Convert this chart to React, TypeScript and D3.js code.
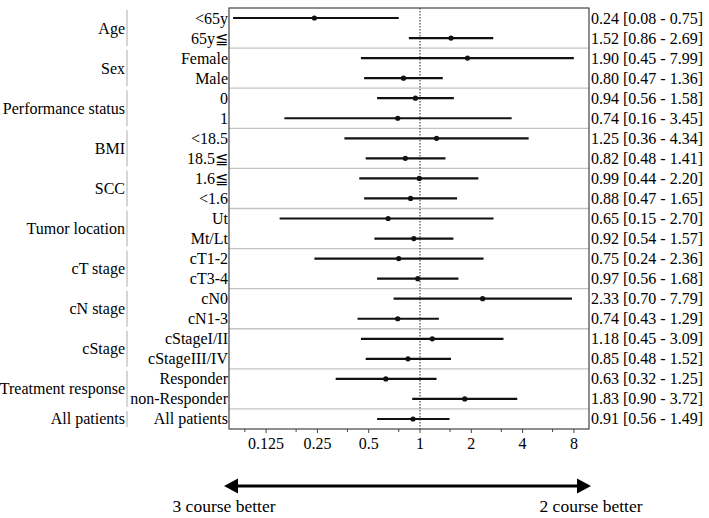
import React from "react";
import * as d3 from "d3";

// Subgroup hazard ratios with 95% CI
const groups = [
  "Age",
  "Sex",
  "Performance status",
  "BMI",
  "SCC",
  "Tumor location",
  "cT stage",
  "cN stage",
  "cStage",
  "Treatment response",
  "All patients",
];
const groupSizes = [2, 2, 2, 2, 2, 2, 2, 2, 2, 2, 1];
const subgroups = [
  "<65y", "65y≦",
  "Female", "Male",
  "0", "1",
  "<18.5", "18.5≦",
  "1.6≦", "<1.6",
  "Ut", "Mt/Lt",
  "cT1-2", "cT3-4",
  "cN0", "cN1-3",
  "cStageI/II", "cStageIII/IV",
  "Responder", "non-Responder",
  "All patients",
];
const hr = [0.24, 1.52, 1.9, 0.8, 0.94, 0.74, 1.25, 0.82, 0.99, 0.88, 0.65, 0.92, 0.75, 0.97, 2.33, 0.74, 1.18, 0.85, 0.63, 1.83, 0.91];
const lo = [0.08, 0.86, 0.45, 0.47, 0.56, 0.16, 0.36, 0.48, 0.44, 0.47, 0.15, 0.54, 0.24, 0.56, 0.7, 0.43, 0.45, 0.48, 0.32, 0.9, 0.56];
const hi = [0.75, 2.69, 7.99, 1.36, 1.58, 3.45, 4.34, 1.41, 2.2, 1.65, 2.7, 1.57, 2.36, 1.68, 7.79, 1.29, 3.09, 1.52, 1.25, 3.72, 1.49];
const majorTicks = [0.125, 0.25, 0.5, 1, 2, 4, 8];
const majorTickLabels = ["0.125", "0.25", "0.5", "1", "2", "4", "8"];
const minorTicks = [0.09375, 0.1875, 0.375, 0.75, 1.5, 3, 6];
const axisDomain = [0.0757, 9.81];
const leftLabel = "3 course better";
const rightLabel = "2 course better";

const W = 709;
const H = 518;
const FONT = "'Liberation Serif', 'Times New Roman', serif";

export default function App() {
  const left = 229;
  const right = 589;
  const top = 8;
  const bottom = 429;

  const x = d3.scaleLog().base(2).domain(axisDomain).range([left, right]);
  const y = d3
    .scaleBand<number>()
    .domain(d3.range(subgroups.length))
    .range([top, bottom])
    .padding(0);
  const bw = y.bandwidth();
  const cy = (i: number) => (y(i) as number) + bw / 2;

  // first row index of each group
  const starts: number[] = [];
  let acc = 0;
  groupSizes.forEach((s) => {
    starts.push(acc);
    acc += s;
  });

  const fmt = d3.format(".2f");
  const arrowY = 486;
  const tipL = 224;
  const tipR = 591;
  const headLen = 14;
  const headHalf = 7.5;

  return (
    <svg
      width={W}
      height={H}
      style={{ position: "absolute", left: 0, top: 0, background: "#fff" }}
      fontFamily={FONT}
      fontSize={16}
    >
      <rect x={0} y={0} width={W} height={H} fill="#fff" />

      {/* group separators inside plot */}
      {starts.slice(1).map((s, i) => (
        <line
          key={"sep" + i}
          x1={left}
          x2={right}
          y1={y(s) as number}
          y2={y(s) as number}
          stroke="#c4c4c4"
          strokeWidth={1.3}
        />
      ))}

      {/* group brackets and labels */}
      {groups.map((g, i) => {
        const y0 = y(starts[i]) as number;
        const y1 = y0 + groupSizes[i] * bw;
        return (
          <g key={"g" + i}>
            <line x1={127} x2={127} y1={y0 + 2} y2={y1 - 2} stroke="#bbb" strokeWidth={1.2} />
            <text x={125} y={(y0 + y1) / 2} textAnchor="end" dominantBaseline="central" fill="#000">
              {g}
            </text>
          </g>
        );
      })}

      {/* subgroup labels */}
      {subgroups.map((s, i) => (
        <text key={"s" + i} x={228} y={cy(i)} textAnchor="end" dominantBaseline="central" fill="#000">
          {s}
        </text>
      ))}

      {/* reference line at HR = 1 */}
      <line x1={x(1)} x2={x(1)} y1={top} y2={bottom} stroke="#222" strokeWidth={1} strokeDasharray="1.5,1.5" />

      {/* confidence intervals and point estimates */}
      {hr.map((v, i) => (
        <g key={"m" + i}>
          <line x1={x(lo[i])} x2={x(hi[i])} y1={cy(i)} y2={cy(i)} stroke="#111" strokeWidth={2.2} />
          <circle cx={x(v)} cy={cy(i)} r={2.6} fill="#111" />
        </g>
      ))}

      {/* plot frame */}
      <rect x={left} y={top} width={right - left} height={bottom - top} fill="none" stroke="#444" strokeWidth={1.2} />

      {/* value labels */}
      {hr.map((v, i) => (
        <text key={"v" + i} x={591} y={cy(i)} dominantBaseline="central" fill="#000">
          {`${fmt(v)} [${fmt(lo[i])} - ${fmt(hi[i])}]`}
        </text>
      ))}

      {/* x axis ticks */}
      {majorTicks.map((t, i) => (
        <g key={"t" + i}>
          <line x1={x(t)} x2={x(t)} y1={bottom} y2={bottom + 4} stroke="#444" strokeWidth={1} />
          <text x={x(t)} y={449} textAnchor="middle" fill="#000">
            {majorTickLabels[i]}
          </text>
        </g>
      ))}
      {minorTicks.map((t, i) => (
        <line key={"mt" + i} x1={x(t)} x2={x(t)} y1={bottom} y2={bottom + 3} stroke="#444" strokeWidth={1} />
      ))}

      {/* direction arrow */}
      <line x1={tipL + headLen - 1} x2={tipR - headLen + 1} y1={arrowY} y2={arrowY} stroke="#000" strokeWidth={3} />
      <path
        d={`M${tipL},${arrowY} L${tipL + headLen},${arrowY - headHalf} L${tipL + headLen},${arrowY + headHalf} Z`}
        fill="#000"
      />
      <path
        d={`M${tipR},${arrowY} L${tipR - headLen},${arrowY - headHalf} L${tipR - headLen},${arrowY + headHalf} Z`}
        fill="#000"
      />
      <text x={tipL} y={512} textAnchor="middle" fill="#000" fontSize={17.5}>
        {leftLabel}
      </text>
      <text x={tipR} y={512} textAnchor="middle" fill="#000" fontSize={17.5}>
        {rightLabel}
      </text>
    </svg>
  );
}
